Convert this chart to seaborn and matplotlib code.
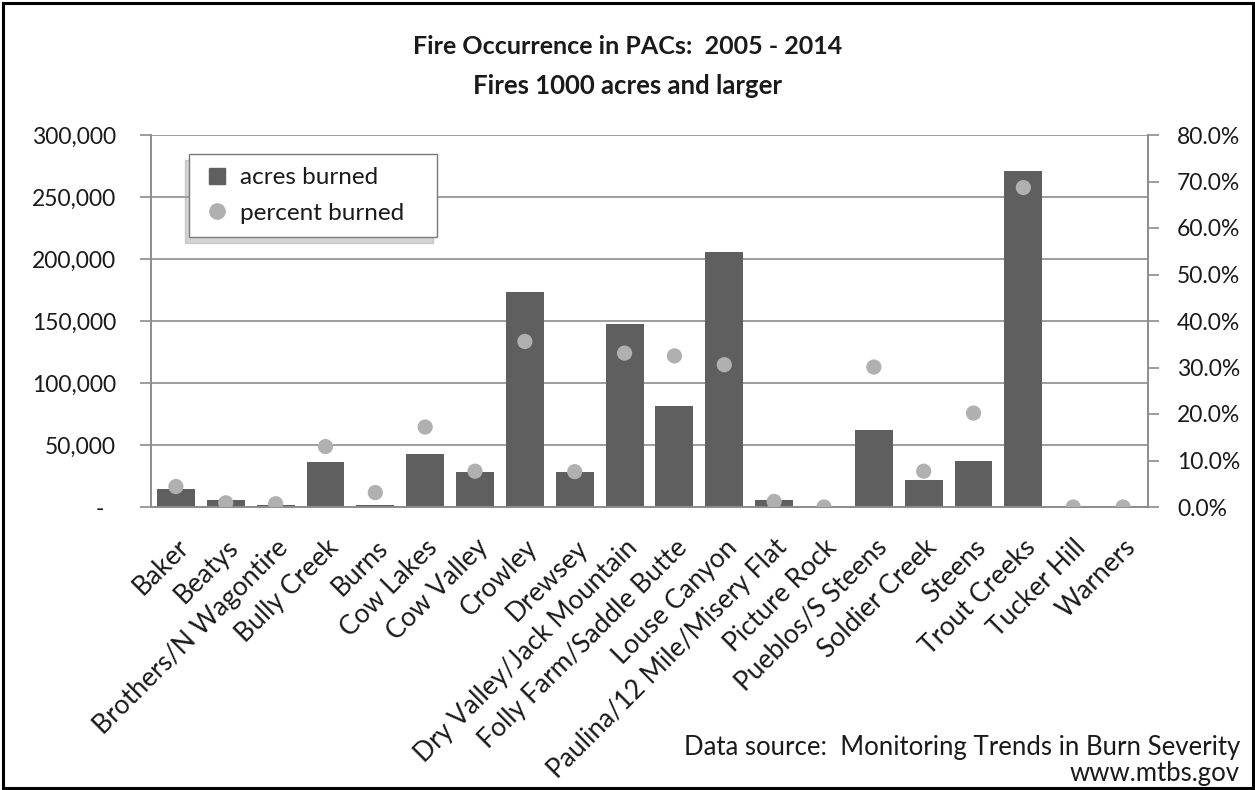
import matplotlib
matplotlib.use("Agg")
import matplotlib.pyplot as plt
import matplotlib.ticker as mticker
from matplotlib.lines import Line2D
from matplotlib.patches import Rectangle
import seaborn as sns
import pandas as pd
import numpy as np

categories = ["Baker", "Beatys", "Brothers/N Wagontire", "Bully Creek", "Burns",
              "Cow Lakes", "Cow Valley", "Crowley", "Drewsey", "Dry Valley/Jack Mountain",
              "Folly Farm/Saddle Butte", "Louse Canyon", "Paulina/12 Mile/Misery Flat",
              "Picture Rock", "Pueblos/S Steens", "Soldier Creek", "Steens", "Trout Creeks",
              "Tucker Hill", "Warners"]
acres_burned = [14800, 5600, 1300, 36300, 1300, 42700, 28200, 173400, 28200, 147800,
                81700, 205300, 5600, 0, 62100, 22000, 37300, 271200, 0, 0]
percent_burned = [0.044, 0.009, 0.007, 0.130, 0.031, 0.172, 0.077, 0.356, 0.076, 0.331,
                  0.325, 0.306, 0.012, 0.0, 0.301, 0.077, 0.202, 0.687, 0.0, 0.0]
left_ticks = [0, 50000, 100000, 150000, 200000, 250000, 300000]
right_ticks = [0.0, 0.1, 0.2, 0.3, 0.4, 0.5, 0.6, 0.7, 0.8]

df = pd.DataFrame({"category": categories, "acres": acres_burned, "pct": percent_burned})

sns.set_style("white")
plt.rcParams["font.family"] = ["Lato", "DejaVu Sans"]
txt_col = "#1a1a1a"
plt.rcParams["text.color"] = txt_col
plt.rcParams["xtick.labelcolor"] = txt_col
plt.rcParams["ytick.labelcolor"] = txt_col

fig = plt.figure(figsize=(12.55, 7.9), dpi=100)
ax = fig.add_axes([151/1255, 1-507/790, (1148-151)/1255, (507-135)/790])

bar_col = "#5f5f5f"
dot_col = "#b0b0b0"
grid_col = "#8c8c8c"

sns.barplot(data=df, x="category", y="acres", color=bar_col, width=0.76,
            saturation=1, ax=ax, zorder=2, edgecolor="none")
ax.set_ylim(0, 300000)
ax.set_xlim(-0.5, len(categories) - 0.5)
ax.set_yticks(left_ticks)
ax.yaxis.set_major_formatter(mticker.FuncFormatter(
    lambda v, p: "-  " if v == 0 else f"{v:,.0f}"))
ax.grid(axis="y", color=grid_col, linewidth=1.2, zorder=0)
ax.set_axisbelow(True)
ax.set_xlabel("")
ax.set_ylabel("")

ax.set_xticks(np.arange(len(categories)))
ax.set_xticklabels(categories, rotation=45, ha="right", rotation_mode="anchor", fontsize=19)
ax.tick_params(axis="x", which="major", length=0, pad=20)
ax.set_xticks(np.arange(len(categories) + 1) - 0.5, minor=True)
ax.tick_params(axis="x", which="minor", length=9, color=grid_col, width=1.2, direction="out")
ax.tick_params(axis="y", length=8, color=grid_col, width=1.2, labelsize=16.5, pad=17)

ax.spines["top"].set_visible(False)
for s in ["left", "bottom", "right"]:
    ax.spines[s].set_color(grid_col)
    ax.spines[s].set_linewidth(1.2)

ax2 = ax.twinx()
sns.scatterplot(data=df, x="category", y="pct", color=dot_col, s=120,
                edgecolor="none", ax=ax2, zorder=3, legend=False)
ax2.set_ylim(0, 0.8)
ax2.set_xlim(-0.5, len(categories) - 0.5)
ax2.set_yticks(right_ticks)
ax2.yaxis.set_major_formatter(mticker.FuncFormatter(lambda v, p: f"{v*100:.1f}%"))
ax2.tick_params(axis="y", length=8, color=grid_col, width=1.2, labelsize=16.5, pad=13)
ax2.set_ylabel("")
ax2.set_xlabel("")
ax2.spines["top"].set_visible(False)
for s in ["left", "bottom", "right"]:
    ax2.spines[s].set_color(grid_col)
    ax2.spines[s].set_linewidth(1.2)

handles = [Line2D([], [], marker="s", linestyle="none", color=bar_col, markersize=11),
           Line2D([], [], marker="o", linestyle="none", color=dot_col, markersize=11)]
leg_kw = dict(loc="upper left", bbox_to_anchor=(0.038, 0.949, 0.249, 0.0), mode="expand",
              frameon=True, fancybox=False,
              fontsize=17.5, handletextpad=0.3, handlelength=1.25,
              borderpad=0.55, labelspacing=0.6, borderaxespad=0)
try:
    leg = ax2.legend(handles, ["acres burned", "percent burned"],
                     shadow={"ox": -3, "oy": -4, "color": "#a0a0a0", "alpha": 0.45}, **leg_kw)
except Exception:
    leg = ax2.legend(handles, ["acres burned", "percent burned"], shadow=True, **leg_kw)
leg.get_frame().set_edgecolor("#7a7a7a")
leg.get_frame().set_linewidth(1.0)
leg.set_zorder(10)

fig.text(0.5, 1-47/790, "Fire Occurrence in PACs:  2005 - 2014", ha="center", va="center",
         fontsize=18, fontweight="bold")
fig.text(0.5, 1-86/790, "Fires 1000 acres and larger", ha="center", va="center",
         fontsize=18.5, fontweight="bold")
fig.text(1240/1255, 1-747/790, "Data source:  Monitoring Trends in Burn Severity",
         ha="right", va="center", fontsize=18.5)
fig.text(1240/1255, 1-773/790, "www.mtbs.gov", ha="right", va="center", fontsize=18.5)

fig.patches.append(Rectangle((2.5/1255, 2.5/790), 1 - 5/1255, 1 - 5/790, transform=fig.transFigure,
                             fill=False, edgecolor="black", linewidth=2.2))

fig.savefig("out.png", dpi=100, facecolor="white")
